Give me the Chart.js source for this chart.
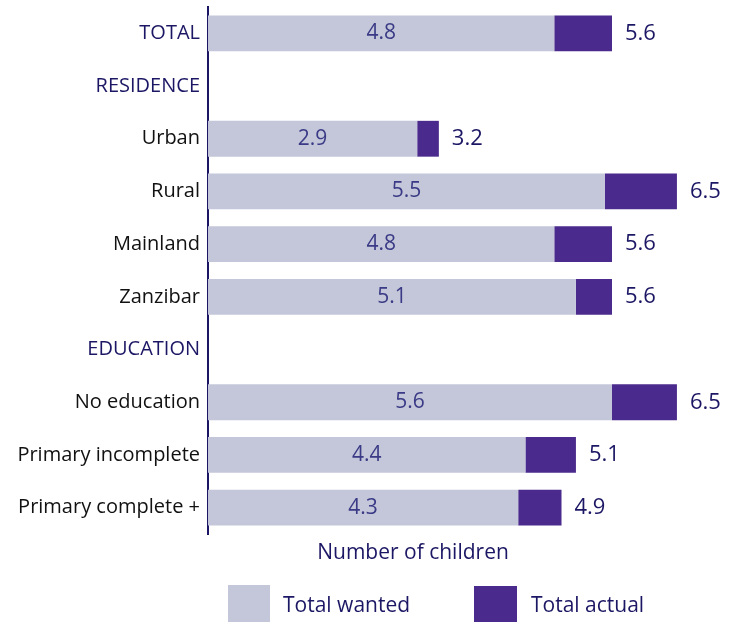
<!DOCTYPE html>
<html>
<head>
<meta charset="utf-8">
<script src="https://cdn.jsdelivr.net/npm/chart.js@4"></script>
<style>
  body { margin: 0; background: #fff; }
  #wrap { width: 731px; height: 622px; }
</style>
</head>
<body>
<div id="wrap"><canvas id="chart" width="731" height="622"></canvas></div>
<script>
// row labels; null values are group headers
const categories = ["TOTAL", "RESIDENCE", "Urban", "Rural", "Mainland", "Zanzibar",
  "EDUCATION", "No education", "Primary incomplete", "Primary complete +"];
const headers = ["TOTAL", "RESIDENCE", "EDUCATION"];
const totalWanted = [4.8, null, 2.9, 5.5, 4.8, 5.1, null, 5.6, 4.4, 4.3];
const totalActual = [5.6, null, 3.2, 6.5, 5.6, 5.6, null, 6.5, 5.1, 4.9];
const axisTitle = "Number of children";
const legendLabels = ["Total wanted", "Total actual"];

const GRAY = "#c4c7d9";
const PURPLE = "#4a2a8c";
const NAVY = "#1c1764";
const FONT = "'Open Sans', sans-serif";

// the purple part is what's left between wanted and actual
const extra = totalActual.map((v, i) => v == null ? null : +(v - totalWanted[i]).toFixed(1));

const labelPlugin = {
  id: "labels",
  afterDatasetsDraw(chart) {
    const ctx = chart.ctx;
    const wantedBars = chart.getDatasetMeta(0).data;
    const actualBars = chart.getDatasetMeta(1).data;
    ctx.save();
    ctx.textBaseline = "middle";
    wantedBars.forEach((bar, i) => {
      if (totalWanted[i] == null) return;
      ctx.font = "21px " + FONT;
      ctx.fillStyle = "#3a3a86";
      ctx.textAlign = "center";
      ctx.fillText(totalWanted[i].toFixed(1), (bar.base + bar.x) / 2, bar.y);
      const end = actualBars[i];
      ctx.font = "22px " + FONT;
      ctx.fillStyle = NAVY;
      ctx.textAlign = "left";
      ctx.fillText(totalActual[i].toFixed(1), end.x + 13, end.y);
    });

    // axis title and legend under the plot
    ctx.font = "21px " + FONT;
    ctx.fillStyle = NAVY;
    ctx.textAlign = "center";
    ctx.fillText(axisTitle, 413, 553);
    ctx.fillStyle = GRAY;
    ctx.fillRect(228, 585, 42, 37);
    ctx.fillStyle = PURPLE;
    ctx.fillRect(474, 586, 43, 36);
    ctx.fillStyle = NAVY;
    ctx.textAlign = "left";
    ctx.fillText(legendLabels[0], 283, 606);
    ctx.fillText(legendLabels[1], 531, 606);
    ctx.restore();
  }
};

new Chart(document.getElementById("chart"), {
  type: "bar",
  data: {
    labels: categories,
    datasets: [
      { label: legendLabels[0], data: totalWanted, backgroundColor: GRAY },
      { label: legendLabels[1], data: extra, backgroundColor: PURPLE }
    ]
  },
  options: {
    indexAxis: "y",
    responsive: false,
    animation: false,
    layout: { padding: { top: 7, bottom: 88, right: 18, left: 0 } },
    datasets: { bar: { categoryPercentage: 1, barPercentage: 0.68 } },
    scales: {
      x: { stacked: true, min: 0, max: 7, display: false },
      y: {
        stacked: true,
        grid: { display: false, drawTicks: false },
        border: { display: true, color: NAVY, width: 2 },
        ticks: {
          padding: 8,
          font: { family: FONT, size: 20 },
          color: (c) => headers.includes(categories[c.index]) ? NAVY : "#111"
        },
        afterFit(scale) {
          scale.width = 208;
          scale.paddingTop = 0;
          scale.paddingBottom = 0;
        }
      }
    },
    plugins: {
      legend: { display: false },
      tooltip: { enabled: false }
    }
  },
  plugins: [labelPlugin]
});
</script>
</body>
</html>
